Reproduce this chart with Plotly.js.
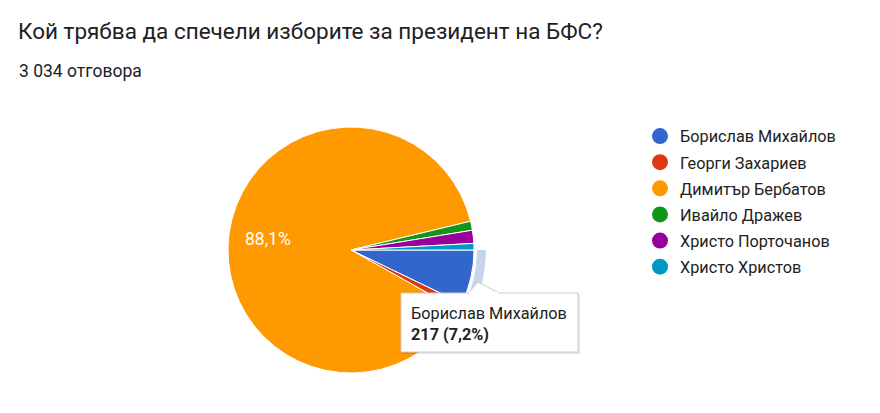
<!DOCTYPE html>
<html>
<head>
<meta charset="utf-8">
<script src="https://cdn.plot.ly/plotly-3.0.1.min.js"></script>
<style>html,body{margin:0;padding:0;background:#fff;}#chart{width:880px;height:413px;}</style>
</head>
<body>
<div id="chart"></div>
<script>
// Data
const titleText = "Кой трябва да спечели изборите за президент на БФС?";
const answersWord = "отговора";
const candidates = ["Борислав Михайлов", "Георги Захариев", "Димитър Бербатов", "Ивайло Дражев", "Христо Порточанов", "Христо Христов"];
const votes = [217, 30, 2673, 36, 52, 26];
const sliceColors = ["#3366cc", "#dc3912", "#ff9900", "#109618", "#990099", "#0099c6"];
const highlighted = 0; // slice shown with hover tooltip

const W = 880, H = 413;
const px = x => x / W;
const py = y => (H - y) / H;
const FONT = "Roboto, Arial, sans-serif";

const total = votes.reduce((a, b) => a + b, 0);
const fmtInt = n => String(n).replace(/\B(?=(\d{3})+(?!\d))/g, " ");
const fmtPct = v => (v * 100).toFixed(1).replace(".", ",") + "%";

// pie geometry: center (351,250), r=123, start at 3 o'clock, clockwise
const cx = 351, cy = 250, R = 123, Rring = 135, startDeg = 90;
const mainPie = {
  type: "pie",
  labels: candidates,
  values: votes,
  sort: false,
  direction: "clockwise",
  rotation: startDeg,
  marker: {colors: sliceColors, line: {color: "#ffffff", width: 1}},
  textinfo: "none",
  hoverinfo: "skip",
  showlegend: false,
  domain: {x: [px(cx - R), px(cx + R)], y: [py(cy + R), py(cy - R)]}
};

// hover highlight ring around the highlighted slice
const ringPie = {
  type: "pie",
  labels: candidates,
  values: votes,
  sort: false,
  direction: "clockwise",
  rotation: startDeg,
  hole: 126 / Rring,
  marker: {colors: sliceColors.map((c, i) => i === highlighted ? "#c6d4f0" : "rgba(0,0,0,0)"), line: {width: 0}},
  textinfo: "none",
  hoverinfo: "skip",
  showlegend: false,
  domain: {x: [px(cx - Rring), px(cx + Rring)], y: [py(cy + Rring), py(cy - Rring)]}
};

// legend entries with circular markers
const legendTraces = candidates.map((name, i) => ({
  type: "scatter",
  mode: "markers",
  x: [null], y: [null],
  name: name,
  legendgroup: name,
  marker: {color: sliceColors[i], size: 16, symbol: "circle"},
  hoverinfo: "skip"
}));

// percentage labels inside large slices (placed on slice bisector at 0.68 R)
const pctLabels = [];
let acc = 0;
votes.forEach((v, i) => {
  const frac = v / total;
  if (frac > 0.5) {
    const mid = (startDeg + (acc + frac / 2) * 360) * Math.PI / 180;
    const lx = cx + 0.68 * R * Math.sin(mid);
    const ly = cy - 0.68 * R * Math.cos(mid);
    pctLabels.push({text: fmtPct(frac), xref: "paper", yref: "paper",
      x: px(lx), y: py(ly), xanchor: "center", yanchor: "middle", showarrow: false,
      font: {family: FONT, size: 17.5, color: "#ffffff"}});
  }
  acc += frac;
});

const tipText = candidates[highlighted] + "<br><b>" + votes[highlighted] + " (" + fmtPct(votes[highlighted] / total) + ")</b>";

const layout = {
  width: W, height: H,
  margin: {l: 0, r: 0, t: 0, b: 0},
  paper_bgcolor: "#ffffff",
  plot_bgcolor: "#ffffff",
  font: {family: FONT, color: "#202124"},
  title: {
    text: titleText,
    x: px(18), xanchor: "left", xref: "paper",
    y: py(31.5), yanchor: "middle", yref: "paper",
    font: {family: FONT, size: 22.5, color: "#202124"}
  },
  xaxis: {visible: false, domain: [0.95, 1]},
  yaxis: {visible: false, domain: [0.95, 1]},
  showlegend: true,
  legend: {
    x: px(640), xanchor: "left",
    y: py(119), yanchor: "top",
    traceorder: "grouped",
    tracegroupgap: 2,
    font: {family: FONT, size: 16.25, color: "#222222"},
    bgcolor: "rgba(0,0,0,0)"
  },
  shapes: [
    // tooltip shadow
    {type: "rect", xref: "paper", yref: "paper", x0: px(402), x1: px(580), y0: py(294), y1: py(354),
     fillcolor: "rgba(0,0,0,0.10)", line: {width: 0}, layer: "above"},
    // tooltip box
    {type: "rect", xref: "paper", yref: "paper", x0: px(401), x1: px(578), y0: py(293), y1: py(352),
     fillcolor: "#ffffff", line: {color: "#cccccc", width: 1}, layer: "above"},
    // callout pointer
    {type: "path", xref: "paper", yref: "paper",
     path: `M ${px(468)} ${py(293.5)} L ${px(478)} ${py(282)} L ${px(500)} ${py(293.5)} Z`,
     fillcolor: "#ffffff", line: {color: "#cccccc", width: 1}, layer: "above"},
    {type: "line", xref: "paper", yref: "paper", x0: px(469), x1: px(499), y0: py(293), y1: py(293),
     line: {color: "#ffffff", width: 2}, layer: "above"}
  ],
  annotations: [
    {text: fmtInt(total) + " " + answersWord, xref: "paper", yref: "paper",
     x: px(17), xanchor: "left", y: py(71), yanchor: "middle", showarrow: false,
     font: {family: FONT, size: 17.5, color: "#202124"}},
    {text: tipText, xref: "paper", yref: "paper",
     x: px(409), xanchor: "left", y: py(323.5), yanchor: "middle", showarrow: false,
     align: "left",
     font: {family: FONT, size: 16.25, color: "#222222"}}
  ].concat(pctLabels)
};

Plotly.newPlot("chart", [mainPie, ringPie].concat(legendTraces), layout, {displayModeBar: false, staticPlot: true});
</script>
</body>
</html>
